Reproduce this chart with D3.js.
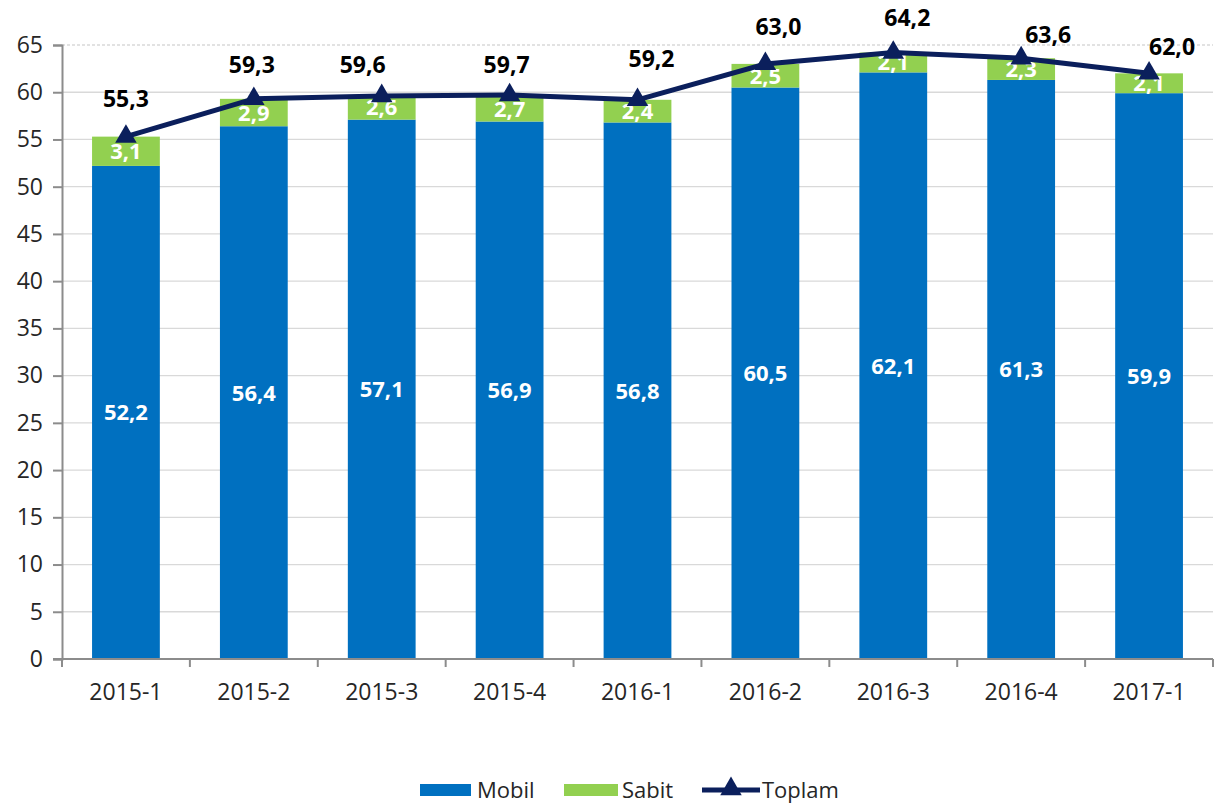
<!DOCTYPE html>
<html>
<head>
<meta charset="utf-8">
<script src="https://cdn.jsdelivr.net/npm/d3@7"></script>
<style>
  body { margin: 0; background: #fff; }
  text { font-family: "Open Sans", "Noto Sans", sans-serif; }
</style>
</head>
<body>
<div id="chart"></div>
<script>
var periods = ['2015-1','2015-2','2015-3','2015-4','2016-1','2016-2','2016-3','2016-4','2017-1'];
var mobil  = [52.2, 56.4, 57.1, 56.9, 56.8, 60.5, 62.1, 61.3, 59.9];
var sabit  = [3.1, 2.9, 2.6, 2.7, 2.4, 2.5, 2.1, 2.3, 2.1];
var toplam = [55.3, 59.3, 59.6, 59.7, 59.2, 63.0, 64.2, 63.6, 62.0];
var yTicks = [0,5,10,15,20,25,30,35,40,45,50,55,60,65];

var width = 1218, height = 812;
var mLeft = 62, mRight = 1213, mTop = 45, mBottom = 659;

// hand-placed toplam labels in the original (dx, rise above the marker)
var labelDx   = [0, -2, -19, -3, 14, 13, 14, 27, 23];
var labelRise = [30, 26, 23, 22, 33, 29, 27, 15, 18];

var svg = d3.select('#chart').append('svg')
  .attr('width', width)
  .attr('height', height);

var x = d3.scaleBand().domain(periods).range([mLeft, mRight]).paddingInner(0.47).paddingOuter(0.235);
var y = d3.scaleLinear().domain([0, 65]).range([mBottom, mTop]);
var fmt = function(v) { return d3.format('.1f')(v).replace('.', ','); };
var cx = function(d) { return x(d) + x.bandwidth() / 2; };

// gridlines
svg.append('g').selectAll('line')
  .data(yTicks.filter(function(d) { return d > 0; }))
  .enter().append('line')
  .attr('x1', mLeft).attr('x2', mRight)
  .attr('y1', function(d) { return y(d); }).attr('y2', function(d) { return y(d); })
  .attr('stroke', '#d9d9d9').attr('stroke-width', 1.3)
  .attr('stroke-dasharray', function(d) { return d == 65 ? '3,2' : null; });

// bars
var mobilColor = '#0070c0', sabitColor = '#92d050', lineColor = '#0b1f5c';
svg.append('g').selectAll('rect')
  .data(periods).enter().append('rect')
  .attr('x', function(d) { return x(d); })
  .attr('width', x.bandwidth())
  .attr('y', function(d, i) { return y(mobil[i]); })
  .attr('height', function(d, i) { return y(0) - y(mobil[i]); })
  .attr('fill', mobilColor);

svg.append('g').selectAll('rect')
  .data(periods).enter().append('rect')
  .attr('x', function(d) { return x(d); })
  .attr('width', x.bandwidth())
  .attr('y', function(d, i) { return y(mobil[i] + sabit[i]); })
  .attr('height', function(d, i) { return y(mobil[i]) - y(mobil[i] + sabit[i]); })
  .attr('fill', sabitColor);

// axes
var yAxis = svg.append('g').attr('transform', 'translate(' + mLeft + ',0)')
  .call(d3.axisLeft(y).tickValues(yTicks).tickSize(9).tickPadding(10));
yAxis.select('.domain').attr('stroke', '#8c8c8c').attr('stroke-width', 2);
yAxis.selectAll('.tick line').attr('stroke', '#8c8c8c').attr('stroke-width', 2);
yAxis.selectAll('.tick text').attr('font-size', 23).attr('fill', '#262626')
  .style('font-family', '"Open Sans", sans-serif');

var xg = svg.append('g').attr('transform', 'translate(0,' + mBottom + ')');
xg.append('line').attr('x1', mLeft - 9).attr('x2', mRight)
  .attr('stroke', '#8c8c8c').attr('stroke-width', 2);
var step = x.step();
xg.selectAll('.tk').data(d3.range(periods.length + 1)).enter().append('line')
  .attr('x1', function(i) { return mLeft + i * step; })
  .attr('x2', function(i) { return mLeft + i * step; })
  .attr('y1', 0).attr('y2', 8)
  .attr('stroke', '#8c8c8c').attr('stroke-width', 2);
xg.selectAll('text').data(periods).enter().append('text')
  .attr('x', cx)
  .attr('y', 41)
  .attr('text-anchor', 'middle')
  .attr('font-size', 23).attr('fill', '#262626')
  .text(function(d) { return d; });

// bar labels
svg.append('g').selectAll('text')
  .data(periods).enter().append('text')
  .attr('x', cx)
  .attr('y', function(d, i) { return y(mobil[i] / 2) + 8; })
  .attr('text-anchor', 'middle')
  .attr('font-size', 22).attr('font-weight', 'bold').attr('fill', '#fff')
  .text(function(d, i) { return fmt(mobil[i]); });

svg.append('g').selectAll('text')
  .data(periods).enter().append('text')
  .attr('x', cx)
  .attr('y', function(d, i) { return y(mobil[i] + sabit[i] / 2) + 8; })
  .attr('text-anchor', 'middle')
  .attr('font-size', 22).attr('font-weight', 'bold').attr('fill', '#fff')
  .text(function(d, i) { return fmt(sabit[i]); });

// toplam line
var line = d3.line()
  .x(function(d, i) { return cx(periods[i]); })
  .y(function(d) { return y(d); });
svg.append('path').datum(toplam)
  .attr('d', line)
  .attr('fill', 'none').attr('stroke', lineColor).attr('stroke-width', 5)
  .attr('stroke-linejoin', 'round');

var tri = d3.symbol().type(d3.symbolTriangle).size(200);
svg.append('g').selectAll('path')
  .data(toplam).enter().append('path')
  .attr('d', tri)
  .attr('transform', function(d, i) { return 'translate(' + cx(periods[i]) + ',' + y(d) + ')'; })
  .attr('fill', lineColor);

svg.append('g').selectAll('text')
  .data(toplam).enter().append('text')
  .attr('x', function(d, i) { return cx(periods[i]) + labelDx[i]; })
  .attr('y', function(d, i) { return y(d) - labelRise[i]; })
  .attr('text-anchor', 'middle')
  .attr('font-size', 23).attr('font-weight', 'bold').attr('fill', '#000')
  .text(function(d) { return fmt(d); });

// legend
var lg = svg.append('g').attr('transform', 'translate(0,790)');
lg.append('rect').attr('x', 420).attr('y', -6).attr('width', 51).attr('height', 12).attr('fill', mobilColor);
lg.append('text').attr('x', 477).attr('y', 8).attr('font-size', 22).attr('fill', '#262626').text('Mobil');
lg.append('rect').attr('x', 564).attr('y', -6).attr('width', 54).attr('height', 12).attr('fill', sabitColor);
lg.append('text').attr('x', 622).attr('y', 8).attr('font-size', 22).attr('fill', '#262626').text('Sabit');
lg.append('line').attr('x1', 702).attr('x2', 760).attr('y1', 0).attr('y2', 0)
  .attr('stroke', lineColor).attr('stroke-width', 5);
lg.append('path').attr('d', tri).attr('transform', 'translate(731,-1)').attr('fill', lineColor);
lg.append('text').attr('x', 762).attr('y', 8).attr('font-size', 22).attr('fill', '#262626').text('Toplam');
</script>
</body>
</html>
